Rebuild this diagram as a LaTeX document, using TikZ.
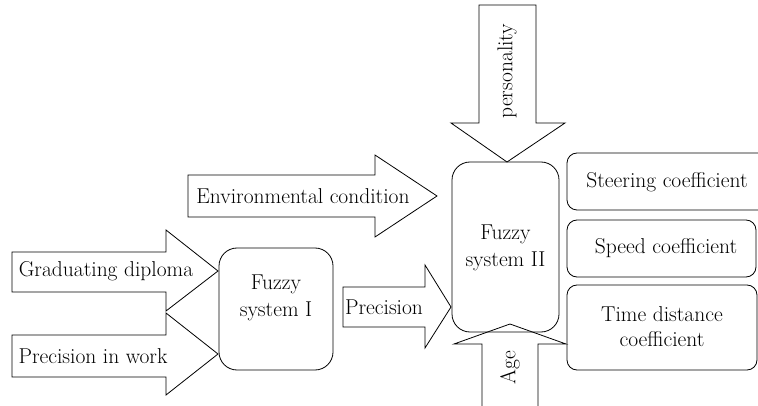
\documentclass[tikz,border=0pt]{standalone}
\begin{document}
\begin{tikzpicture}[x=1pt,y=-1pt,line width=0.8pt,
  font=\fontsize{21.5}{25}\selectfont,
  boxfz/.style={draw,rounded corners=18pt},
  boxout/.style={draw,rounded corners=10pt},
  blockarrow/.style={draw,line join=miter},
  lbl/.style={inner sep=0pt,align=center}]
\useasboundingbox (0,0) rectangle (758,406);
\clip (0,0) rectangle (758,406);
% fuzzy boxes
\draw[boxfz] (219,248) rectangle (333,370);
\node[lbl] (f1) at (276,298) {Fuzzy\\[2pt]system I};
\draw[boxfz] (452,162) rectangle (559,332);
\node[lbl] (f2) at (505.5,248) {Fuzzy\\[2pt]system II};
% output boxes
\draw[boxout] (567,153) rectangle (775,210);
\node[lbl] (steer) at (667,182) {Steering coefficient};
\draw[boxout] (567,220) rectangle (756,277);
\node[lbl] (speed) at (666,248) {Speed coefficient};
\draw[boxout] (567,285) rectangle (757,370);
\node[lbl] (tdist) at (662,327) {Time distance\\[0pt]coefficient};
% block arrows
\draw[blockarrow] (12,252) -- (166,252) -- (166,230) -- (218,271) -- (166,311) -- (166,292) -- (12,292) -- cycle;
\node[lbl] (grad) at (106,271) {Graduating diploma};
\draw[blockarrow] (12,335) -- (166,335) -- (166,313) -- (218,354) -- (166,395) -- (166,377) -- (12,377) -- cycle;
\node[lbl] (prw) at (93,356) {Precision in work};
\draw[blockarrow] (188,175) -- (375,175) -- (375,155) -- (437,196) -- (375,237) -- (375,217) -- (188,217) -- cycle;
\node[lbl] (env) at (303,196) {Environmental condition};
\draw[blockarrow] (343,287) -- (425,287) -- (425,265) -- (451,307) -- (425,348) -- (425,327) -- (343,327) -- cycle;
\node[lbl] (prec) at (384,307) {Precision};
\draw[blockarrow] (479,5) -- (536,5) -- (536,123) -- (565,123) -- (507,162) -- (451,123) -- (479,123) -- cycle;
\node[lbl,rotate=90] (pers) at (507,71) {personality};
\draw[blockarrow] (482,420) -- (482,344) -- (454,344) -- (510,324) -- (566,344) -- (538,344) -- (538,420);
\node[lbl,rotate=90] (age) at (510,368) {Age};
\end{tikzpicture}
\end{document}
